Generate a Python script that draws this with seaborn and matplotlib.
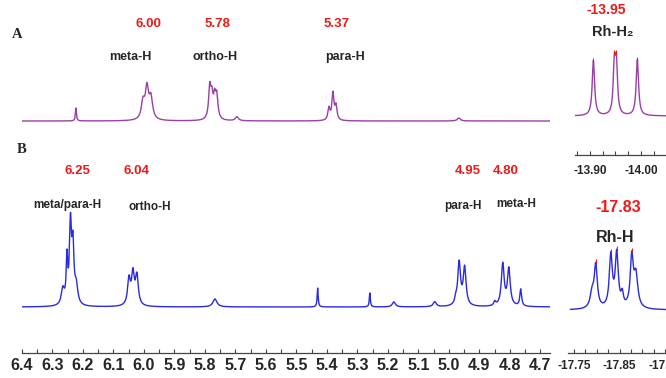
import numpy as np
import pandas as pd
import seaborn as sns
import matplotlib.pyplot as plt
from matplotlib.ticker import MultipleLocator, FixedLocator, FormatStrFormatter

# ---------------------------------------------------------------
# Peak tables (ppm, intensity, half width)
# ---------------------------------------------------------------

# spectrum A, aromatic region
a_ppm = [6.223, 6.003, 5.990, 5.977, 5.784, 5.777, 5.768, 5.761, 5.695,
         5.393, 5.380, 5.370, 4.967]
a_int = [13, 17, 31, 21, 31, 20, 20, 22, 4,
         12, 27, 14, 3]
a_wid = [0.002, 0.0065, 0.0065, 0.0065, 0.0045, 0.0045, 0.0045, 0.0045, 0.006,
         0.004, 0.004, 0.004, 0.006]

# spectrum A, hydride region (Rh-H2)
a_hyd_ppm = [-13.907, -13.948, -13.952, -13.993]
a_hyd_int = [55, 48, 48, 56]
a_hyd_wid = [0.0028, 0.0026, 0.0026, 0.0028]

# spectrum B, aromatic region
b_ppm = [6.266, 6.2525, 6.241, 6.233, 6.222, 6.049, 6.036, 6.023, 5.767, 5.430, 5.259, 5.180, 5.046,
         4.977, 4.966, 4.948, 4.849, 4.823, 4.803, 4.764]
b_int = [16, 44, 78, 55, 18, 26, 31, 29, 8, 19, 14, 5, 5,
         5, 43, 38, 4, 42, 37, 17]
b_wid = [0.006, 0.003, 0.004, 0.004, 0.006, 0.0055, 0.0055, 0.0055, 0.008, 0.002, 0.002, 0.006, 0.006,
         0.004, 0.0055, 0.0055, 0.004, 0.0055, 0.0055, 0.0035]

# spectrum B, hydride region (Rh-H)
b_hyd_ppm = [-17.790, -17.798, -17.831, -17.844, -17.856, -17.877, -17.886]
b_hyd_int = [15, 42, 52, 54, 12, 50, 32]
b_hyd_wid = [0.005, 0.004, 0.004, 0.004, 0.003, 0.004, 0.005]

# annotations
a_shift_labels = ["6.00", "5.78", "5.37"]
a_group_labels = ["meta-H", "ortho-H", "para-H"]
b_shift_labels = ["6.25", "6.04", "4.95", "4.80"]
b_group_labels = ["meta/para-H", "ortho-H", "para-H", "meta-H"]

W, H = 666, 378
PURPLE = "#9b3fa6"
BLUE = "#2a2ae0"
RED = "#f01818"


def lorentz_sum(x, centers, heights, widths):
    y = np.zeros_like(x)
    for c, h, w in zip(centers, heights, widths):
        y += h / (1 + ((x - c) / w) ** 2)
    return y


def px_axes(fig, left, top, right, bottom):
    return fig.add_axes([left / W, 1 - bottom / H, (right - left) / W, (bottom - top) / H])


def ftext(fig, x, y, s, **kw):
    fig.text(x / W, 1 - y / H, s, ha="center", va="center", **kw)


sns.set_style("white")
plt.rcParams["font.family"] = ["Liberation Sans", "DejaVu Sans"]

fig = plt.figure(figsize=(W / 100, H / 100), dpi=100)

axA = px_axes(fig, 22, 0, 550, 140)
axB = px_axes(fig, 22, 140, 550, 353)
axA2 = px_axes(fig, 575, 0, 666, 155)
axB2 = px_axes(fig, 568, 185, 666, 353)

grid_main = np.linspace(6.40, 4.66, 4000)
grid_a2 = np.linspace(-13.871, -14.05, 800)
grid_b2 = np.linspace(-17.742, -17.952, 800)

df_a = pd.DataFrame({"ppm": grid_main, "I": lorentz_sum(grid_main, a_ppm, a_int, a_wid)})
df_b = pd.DataFrame({"ppm": grid_main, "I": lorentz_sum(grid_main, b_ppm, b_int, b_wid)})
df_a2 = pd.DataFrame({"ppm": grid_a2, "I": lorentz_sum(grid_a2, a_hyd_ppm, a_hyd_int, a_hyd_wid)})
df_b2 = pd.DataFrame({"ppm": grid_b2, "I": lorentz_sum(grid_b2, b_hyd_ppm, b_hyd_int, b_hyd_wid)})

sns.lineplot(data=df_a, x="ppm", y="I", ax=axA, color=PURPLE, lw=1.0)
sns.lineplot(data=df_b, x="ppm", y="I", ax=axB, color=BLUE, lw=1.0)
sns.lineplot(data=df_a2, x="ppm", y="I", ax=axA2, color=PURPLE, lw=1.0)
sns.lineplot(data=df_b2, x="ppm", y="I", ax=axB2, color=BLUE, lw=1.0)

# red peak-pick tips on the hydride multiplets
for ax, df, peaks in [(axA2, df_a2, [-13.907, -13.948, -13.952, -13.993]),
                      (axB2, df_b2, [-17.798, -17.831, -17.844, -17.877])]:
    tops = np.interp(peaks, df["ppm"][::-1], df["I"][::-1])
    ax.plot(peaks, tops + 1, "|", color=RED, ms=2.5, mew=0.8)

axA.set_xlim(6.40, 4.668)
axB.set_xlim(6.40, 4.668)
axA.set_ylim(-19, 121)
axB.set_ylim(-46, 167)
axA2.set_xlim(-13.871, -14.049)
axA2.set_ylim(-39, 116)
axB2.set_xlim(-17.737, -17.952)
axB2.set_ylim(-43, 125)

for ax in (axA, axB, axA2, axB2):
    ax.set_xlabel("")
    ax.set_ylabel("")
    ax.set_yticks([])
    ax.patch.set_alpha(0)
    for side in ("top", "left", "right"):
        ax.spines[side].set_visible(False)

axA.spines["bottom"].set_visible(False)
axA.set_xticks([])

axB.xaxis.set_major_locator(MultipleLocator(0.1))
axB.xaxis.set_minor_locator(MultipleLocator(0.05))
axA2.xaxis.set_major_locator(FixedLocator([-13.90, -14.00]))
axA2.xaxis.set_minor_locator(MultipleLocator(0.025))
axB2.xaxis.set_major_locator(FixedLocator([-17.75, -17.85, -17.95]))
axB2.xaxis.set_minor_locator(MultipleLocator(0.025))

for ax, fmt, size, pad in [(axB, "%.1f", 11.5, 3.5), (axA2, "%.2f", 8.5, 7), (axB2, "%.2f", 8.5, 5)]:
    ax.spines["bottom"].set_color("#444444")
    ax.spines["bottom"].set_linewidth(0.9)
    ax.xaxis.set_major_formatter(FormatStrFormatter(fmt))
    ax.tick_params(axis="x", which="both", direction="in", length=3, width=0.8,
                   color="#444444", bottom=True, pad=pad)
    for lab in ax.get_xticklabels():
        lab.set_fontsize(size)
        lab.set_fontweight("bold")

# panel letters
ftext(fig, 17, 34, "A", family="Liberation Serif", fontweight="bold", fontsize=10.5)
ftext(fig, 22, 150, "B", family="Liberation Serif", fontweight="bold", fontsize=10.5)

# spectrum A labels
for s, x in zip(a_shift_labels, [148, 217, 337]):
    ftext(fig, x, 24, s, color=RED, fontweight="bold", fontsize=9.5)
for s, x in zip(a_group_labels, [130, 215, 345]):
    ftext(fig, x, 57, s, fontweight="bold", fontsize=9)
ftext(fig, 606, 10, "-13.95", color=RED, fontweight="bold", fontsize=10)
ftext(fig, 613, 32, "Rh-H\u2082", fontweight="bold", fontsize=10.5)

# spectrum B labels
for s, x in zip(b_shift_labels, [77, 137, 468, 506]):
    ftext(fig, x, 171, s, color=RED, fontweight="bold", fontsize=9.5)
for s, x, y in zip(b_group_labels, [67, 150, 463, 516], [205, 207, 206, 204]):
    ftext(fig, x, y, s, fontweight="bold", fontsize=8.5)
ftext(fig, 618, 208, "-17.83", color=RED, fontweight="bold", fontsize=11.5)
ftext(fig, 615, 237, "Rh-H", fontweight="bold", fontsize=11.5)

fig.savefig("out.png", dpi=100)
